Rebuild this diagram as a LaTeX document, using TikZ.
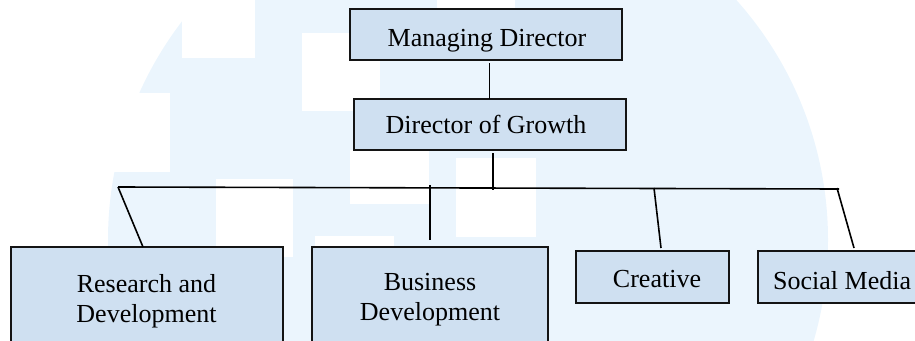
\documentclass[tikz,border=0pt]{standalone}
\usepackage{fontspec}
\setmainfont{Liberation Serif}
\definecolor{boxfill}{RGB}{207,224,241}
\definecolor{wmblue}{RGB}{235,245,253}
\definecolor{boxline}{RGB}{20,20,20}
\tikzset{
  orgbox/.style={draw=boxline, line width=2pt, fill=boxfill, inner sep=0pt, outer sep=0pt},
  orgtext/.style={font=\fontsize{26}{30}\selectfont, inner sep=0pt, anchor=base, align=center},
  conn/.style={draw=black, line width=1.6pt},
  wmcut/.style={fill=white}
}
\begin{document}
\begin{tikzpicture}[x=1pt, y=-1pt]
\useasboundingbox (0,0) rectangle (915,340);
\clip (0,0) rectangle (915,340);
% watermark
\fill[wmblue] (468,240) circle (360pt);
\fill[wmcut] (182,-5) rectangle (255,58);
\fill[wmcut] (90,93) rectangle (170,172);
\fill[wmcut] (302,33) rectangle (380,111);
\fill[wmcut] (437,-5) rectangle (515,30);
\fill[wmcut] (350,150) rectangle (429,204);
\fill[wmcut] (456,158) rectangle (536,237);
\fill[wmcut] (216,179) rectangle (293,257);
\fill[wmcut] (315,236) rectangle (394,260);
% boxes
\node[orgbox, minimum width=272pt, minimum height=51pt] (md) at (486,34.5) {};
\node[orgbox, minimum width=272pt, minimum height=51pt] (dog) at (489.5,124.5) {};
\node[orgbox, minimum width=272pt, minimum height=133pt] (rnd) at (147,313.5) {};
\node[orgbox, minimum width=236pt, minimum height=133pt] (bd) at (430,313.5) {};
\node[orgbox, minimum width=153pt, minimum height=52pt] (cre) at (652.5,277) {};
\node[orgbox, minimum width=202pt, minimum height=52pt] (soc) at (859,277) {};
% texts
\node[orgtext] (mdt) at (487,46) {Managing Director};
\node[orgtext] (dogt) at (486,133.3) {Director of Growth};
\node[orgtext] (rndt) at (146.5,322) {Research and\\Development};
\node[orgtext] (bdt) at (430,320) {Business\\Development};
\node[orgtext] (cret) at (657,287) {Creative};
\node[orgtext, anchor=base west] (soct) at (773,289) {Social Media};
% connectors
\coordinate (busL) at (118,187);
\coordinate (busR) at (839,189);
\coordinate (busD) at (493,190);
\coordinate (busB) at (430,185);
\coordinate (busC) at (654,188);
\coordinate (busS) at (837,188);
\draw[conn] ([yshift=-3pt]md.south -| dog.north) -- (dog.north);
\draw[conn] ([yshift=-3pt]dog.south -| busD) -- (busD);
\draw[conn] (busL) -- (busR);
\draw[conn] (busL) -- ([xshift=-4pt]rnd.north);
\draw[conn] (busB) -- ([yshift=7pt]bd.north);
\draw[conn] (busC) -- ([xshift=8.5pt,yshift=3pt]cre.north);
\draw[conn] (busS) -- ([xshift=-5pt,yshift=3pt]soc.north);
\end{tikzpicture}
\end{document}
